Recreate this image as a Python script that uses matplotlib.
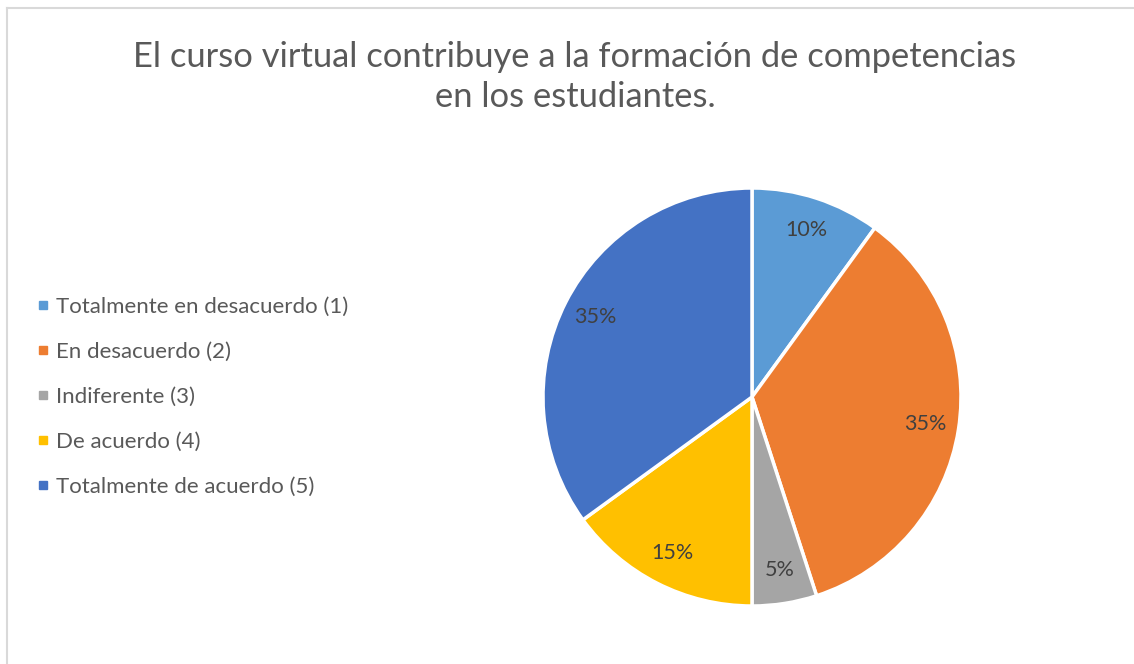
import matplotlib
matplotlib.use("Agg")
import matplotlib.pyplot as plt
from matplotlib.lines import Line2D

categories = ["Totalmente en desacuerdo (1)", "En desacuerdo (2)", "Indiferente (3)",
              "De acuerdo (4)", "Totalmente de acuerdo (5)"]
values = [10, 35, 5, 15, 35]
colors = ["#5B9BD5", "#ED7D31", "#A5A5A5", "#FFC000", "#4472C4"]
title = "El curso virtual contribuye a la formación de competencias\nen los estudiantes."

plt.rcParams['font.family'] = ['Lato', 'DejaVu Sans']

W, H = 1134, 664
fig = plt.figure(figsize=(W / 100, H / 100), dpi=100)
fig.patch.set_facecolor("white")

# frame lines (top and left)
fig.add_artist(Line2D([7 / W, 1], [1 - 8 / H, 1 - 8 / H], color="#D9D9D9", lw=1.5))
fig.add_artist(Line2D([7 / W, 7 / W], [0, 1 - 8 / H], color="#D9D9D9", lw=1.5))

cx, cy, R = 752, 397, 209
ax = fig.add_axes([(cx - R) / W, (H - cy - R) / H, 2 * R / W, 2 * R / H])
wedges, texts, autotexts = ax.pie(
    values, colors=colors, startangle=90, counterclock=False,
    autopct="%1.0f%%", pctdistance=0.84,
    wedgeprops=dict(edgecolor="white", linewidth=2.5),
    textprops=dict(color="#404040", fontsize=15.5))
ax.set_xlim(-1, 1)
ax.set_ylim(-1, 1)
ax.set_aspect("equal")
ax.axis("off")

fig.text(575 / W, 1 - 77 / H, title, ha="center", va="center",
         fontsize=24.8, color="#595959", linespacing=1.3)

handles = [Line2D([], [], marker="s", linestyle="none", markersize=5.5,
                  markerfacecolor=c, markeredgecolor=c) for c in colors]
fig.legend(handles, categories, loc="center left",
           bbox_to_anchor=(27 / W, 1 - 397 / H), frameon=False,
           fontsize=16, labelcolor="#595959", handlelength=0.6,
           handletextpad=0.3, labelspacing=1.12, borderaxespad=0)

fig.savefig("out.png", dpi=100)
